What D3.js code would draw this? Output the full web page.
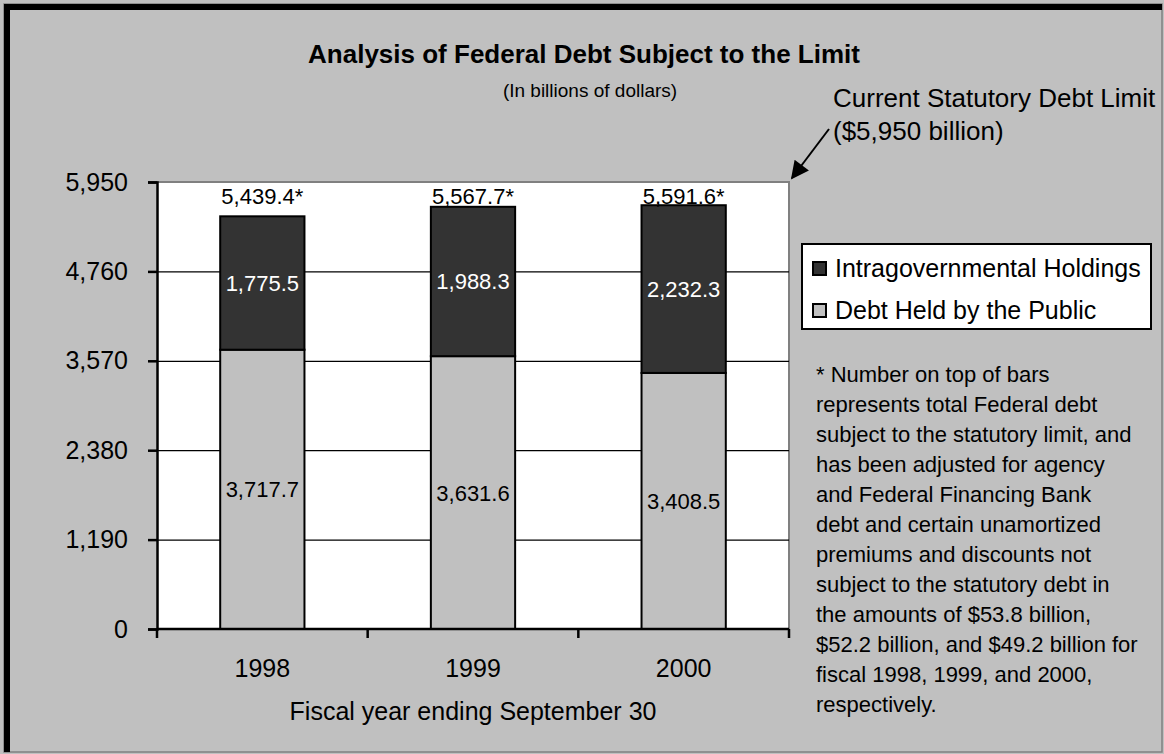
<!DOCTYPE html>
<html>
<head>
<meta charset="utf-8">
<script src="https://cdn.jsdelivr.net/npm/d3@7"></script>
<style>
  body { margin:0; background:#c0c0c0; }
  svg { display:block; }
  text { font-family: "Liberation Sans", Arial, sans-serif; fill:#000; }
</style>
</head>
<body>
<svg id="chart" width="1164" height="754"></svg>
<script>
var years = ["1998", "1999", "2000"];
var publicDebt = [3717.7, 3631.6, 3408.5];
var intragov = [1775.5, 1988.3, 2232.3];
var totals = [5439.4, 5567.7, 5591.6];
var yTicks = [0, 1190, 2380, 3570, 4760, 5950];
var seriesNames = ["Intragovernmental Holdings", "Debt Held by the Public"];
var footnote = [
  "* Number on top of bars",
  "represents total Federal debt",
  "subject to the statutory limit, and",
  "has been adjusted for agency",
  "and Federal Financing Bank",
  "debt and certain unamortized",
  "premiums and discounts not",
  "subject to the statutory debt in",
  "the amounts of $53.8 billion,",
  "$52.2 billion, and $49.2 billion for",
  "fiscal 1998, 1999, and 2000,",
  "respectively."
];

var darkFill = "#333333", lightFill = "#c0c0c0";
var svg = d3.select("#chart");
var fmt = d3.format(",.1f");
var fontFam = '"Liberation Sans", Arial, sans-serif';

// outer frame
svg.append("rect").attr("x",4).attr("y",4).attr("width",1158).attr("height",748)
  .attr("fill","#c0c0c0").attr("stroke","#808080").attr("stroke-width",1.5);
svg.append("rect").attr("x",4).attr("y",4).attr("width",1158).attr("height",6).attr("fill","#000");
svg.append("rect").attr("x",4).attr("y",4).attr("width",6).attr("height",748).attr("fill","#000");

var pLeft = 157, pRight = 789, pTop = 182, pBottom = 629;

var x = d3.scaleBand().domain(years).range([pLeft, pRight])
  .paddingInner(0.6).paddingOuter(0.3);
var y = d3.scaleLinear().domain([0, 5950]).range([pBottom, pTop]);

// plot area
svg.append("rect").attr("x",pLeft).attr("y",pTop).attr("width",pRight-pLeft).attr("height",pBottom-pTop)
  .attr("fill","#fff");
svg.append("path").attr("d","M"+pLeft+","+pTop+"H"+pRight+"V"+pBottom)
  .attr("fill","none").attr("stroke","#808080").attr("stroke-width",2);

// gridlines
svg.append("g").attr("transform","translate("+pLeft+",0)")
  .call(d3.axisLeft(y).tickValues(yTicks.slice(1, -1)).tickSize(-(pRight-pLeft)).tickFormat(""))
  .call(function(g){ g.select(".domain").remove(); })
  .selectAll("line").attr("stroke","#000").attr("stroke-width",1.2);

// bars
var stacked = years.map(function(d, i){
  return [
    {year:d, y0:0, y1:publicDebt[i], v:publicDebt[i], fill:lightFill, color:"#000"},
    {year:d, y0:publicDebt[i], y1:publicDebt[i]+intragov[i], v:intragov[i], fill:darkFill, color:"#fff"}
  ];
});
var segs = [].concat.apply([], stacked);

svg.append("g").selectAll("rect").data(segs).enter().append("rect")
  .attr("x", function(d){ return x(d.year); })
  .attr("y", function(d){ return y(d.y1); })
  .attr("width", x.bandwidth())
  .attr("height", function(d){ return y(d.y0) - y(d.y1); })
  .attr("fill", function(d){ return d.fill; })
  .attr("stroke","#000").attr("stroke-width",2);

svg.append("g").selectAll("text").data(segs).enter().append("text")
  .attr("x", function(d){ return x(d.year) + x.bandwidth()/2; })
  .attr("y", function(d){ return (y(d.y0) + y(d.y1))/2 + 8; })
  .attr("text-anchor","middle").style("font-size","22px")
  .style("fill", function(d){ return d.color; })
  .text(function(d){ return fmt(d.v); });

// totals on top
svg.append("g").selectAll("text").data(totals).enter().append("text")
  .attr("x", function(d,i){ return x(years[i]) + x.bandwidth()/2; })
  .attr("y", y(5950) + 22)
  .attr("text-anchor","middle").style("font-size","22px")
  .text(function(d){ return fmt(d) + "*"; });

// y axis
var yAxis = svg.append("g").attr("transform","translate("+pLeft+",0)")
  .call(d3.axisLeft(y).tickValues(yTicks).tickSize(9).tickPadding(20).tickFormat(d3.format(",")));
yAxis.select(".domain").attr("stroke","#000").attr("stroke-width",2.5);
yAxis.selectAll("line").attr("stroke","#000").attr("stroke-width",2.5);
yAxis.selectAll("text").style("font-family",fontFam).style("font-size","25px").attr("fill","#000");

// x axis
var xAxis = svg.append("g").attr("transform","translate(0,"+pBottom+")")
  .call(d3.axisBottom(x).tickSize(0).tickPadding(30));
xAxis.select(".domain").attr("d","M"+pLeft+",0H"+pRight).attr("stroke","#000").attr("stroke-width",2.5);
xAxis.selectAll("text").style("font-family",fontFam).style("font-size","25px").attr("fill","#000");
var bounds = years.map(function(d){ return x(d) - x.step()*x.paddingInner()/2; });
bounds.push(pRight);
xAxis.selectAll(".sep").data(bounds).enter().append("line")
  .attr("x1", function(d){ return d; }).attr("x2", function(d){ return d; })
  .attr("y1",0).attr("y2",9).attr("stroke","#000").attr("stroke-width",2.5);

svg.append("text").attr("x",(pLeft+pRight)/2).attr("y",720).attr("text-anchor","middle")
  .style("font-size","25px").text("Fiscal year ending September 30");

// titles
svg.append("text").attr("x",584).attr("y",63).attr("text-anchor","middle")
  .style("font-size","26px").style("font-weight","bold")
  .text("Analysis of Federal Debt Subject to the Limit");
svg.append("text").attr("x",590).attr("y",97).attr("text-anchor","middle")
  .style("font-size","19px").text("(In billions of dollars)");

// limit annotation
svg.append("text").attr("x",833).attr("y",107).style("font-size","26px").text("Current Statutory Debt Limit");
svg.append("text").attr("x",833).attr("y",140).style("font-size","26px").text("($5,950 billion)");
svg.append("defs").append("marker").attr("id","arrow").attr("viewBox","0 0 10 10")
  .attr("refX",9).attr("refY",5)
  .attr("markerUnits","userSpaceOnUse").attr("orient","auto")
  .attr("markerWidth",22).attr("markerHeight",18)
  .append("path").attr("d","M0,0L10,5L0,10z").attr("fill","#000");
svg.append("line").attr("x1",829).attr("y1",129).attr("x2",792).attr("y2",178)
  .attr("stroke","#000").attr("stroke-width",2).attr("marker-end","url(#arrow)");

// legend
var lg = svg.append("g");
lg.append("rect").attr("x",802).attr("y",244).attr("width",349).attr("height",85)
  .attr("fill","#fff").attr("stroke","#000").attr("stroke-width",2);
var legendFills = [darkFill, lightFill];
seriesNames.forEach(function(n, i){
  lg.append("rect").attr("x",813).attr("y",262 + i*42).attr("width",13).attr("height",13)
    .attr("fill",legendFills[i]).attr("stroke","#000").attr("stroke-width",2);
  lg.append("text").attr("x",835).attr("y",277 + i*42).style("font-size","25px").text(n);
});

// footnote
svg.append("g").selectAll("text").data(footnote).enter().append("text")
  .attr("x",816).attr("y",function(d,i){ return 382 + i*30; })
  .style("font-size","22px").text(function(d){ return d; });
</script>
</body>
</html>
